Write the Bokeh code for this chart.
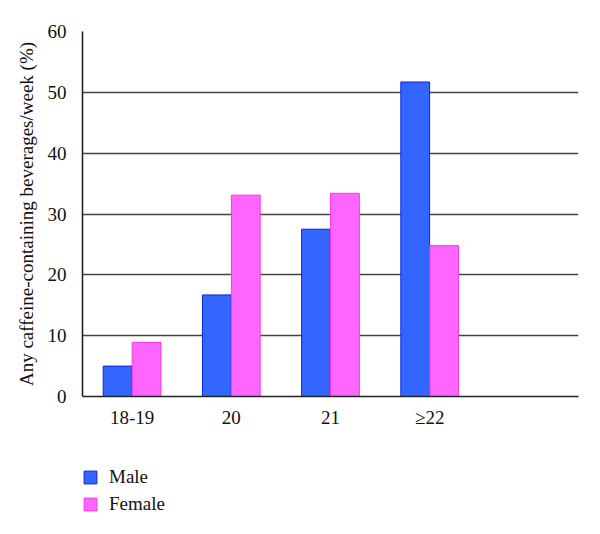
from bokeh.plotting import figure
from bokeh.layouts import column
from bokeh.models import ColumnDataSource, FixedTicker, Legend, LegendItem, Range1d
from bokeh.embed import file_html
from bokeh.resources import INLINE

categories = ["18-19", "20", "21", "≥22"]
male = [5.0, 16.7, 27.5, 51.7]
female = [8.9, 33.1, 33.4, 24.8]
y_ticks = [0, 10, 20, 30, 40, 50, 60]
n_slots = 5

FONT = "Liberation Serif"
MALE_FILL, MALE_LINE = "#3366FF", "#1020E0"
FEM_FILL, FEM_LINE = "#FF66FF", "#FF33DD"

centers = [i + 0.5 for i in range(len(categories))]
src_m = ColumnDataSource(dict(x=[c - 0.146 for c in centers], top=male))
src_f = ColumnDataSource(dict(x=[c + 0.146 for c in centers], top=female))

p = figure(width=584, height=430, output_backend="svg", toolbar_location=None,
           x_range=Range1d(0, n_slots), y_range=Range1d(0, 60),
           min_border_left=82, min_border_right=6, min_border_top=31, min_border_bottom=31)

p.vbar(x="x", top="top", width=0.29, source=src_m, fill_color=MALE_FILL,
       line_color=MALE_LINE, line_width=1)
p.vbar(x="x", top="top", width=0.29, source=src_f, fill_color=FEM_FILL,
       line_color=FEM_LINE, line_width=1)

p.outline_line_color = None
p.background_fill_color = "white"
p.border_fill_color = "white"

p.xgrid.visible = False
p.ygrid.ticker = FixedTicker(ticks=y_ticks)
p.ygrid.grid_line_color = "#444444"
p.ygrid.grid_line_width = 1.6

p.yaxis.ticker = FixedTicker(ticks=y_ticks)
p.yaxis.axis_label = "Any caffeine-containing beverages/week (%)"
p.yaxis.axis_label_text_font = FONT
p.yaxis.axis_label_text_font_style = "normal"
p.yaxis.axis_label_text_font_size = "19px"
p.yaxis.axis_label_text_color = "#111111"
p.yaxis.axis_label_standoff = 8
p.yaxis.major_label_text_font = FONT
p.yaxis.major_label_text_font_size = "19px"
p.yaxis.major_label_text_color = "#111111"
p.yaxis.major_tick_line_color = None
p.yaxis.minor_tick_line_color = None
p.yaxis.axis_line_color = "#222222"
p.yaxis.axis_line_width = 1.6
p.yaxis.major_label_standoff = 10

p.xaxis.ticker = FixedTicker(ticks=centers)
p.xaxis.major_label_overrides = {c: lab for c, lab in zip(centers, categories)}
p.xaxis.major_label_text_font = FONT
p.xaxis.major_label_text_font_size = "19px"
p.xaxis.major_label_text_color = "#111111"
p.xaxis.major_tick_line_color = None
p.xaxis.minor_tick_line_color = None
p.xaxis.axis_line_color = "#222222"
p.xaxis.axis_line_width = 1.6
p.xaxis.major_label_standoff = 4

# legend panel below the chart
lf = figure(width=584, height=88, output_backend="svg", toolbar_location=None,
            x_range=Range1d(0, 1), y_range=Range1d(0, 1),
            x_axis_type=None, y_axis_type=None,
            min_border_left=0, min_border_right=0, min_border_top=0, min_border_bottom=0)
lf.outline_line_color = None
lf.xgrid.visible = False
lf.ygrid.visible = False
# dummy renderers placed outside the visible range, used only for legend swatches
lm = lf.vbar(x=[-10], top=[-10], width=0.1, fill_color=MALE_FILL, line_color=MALE_LINE)
lfe = lf.vbar(x=[-10], top=[-10], width=0.1, fill_color=FEM_FILL, line_color=FEM_LINE)

legend = Legend(items=[LegendItem(label="Male", renderers=[lm]),
                       LegendItem(label="Female", renderers=[lfe])],
                location=(0, 3), orientation="vertical")
legend.border_line_color = None
legend.background_fill_alpha = 0
legend.label_text_font = FONT
legend.label_text_font_size = "19px"
legend.label_text_color = "#111111"
legend.glyph_width = 16
legend.glyph_height = 16
legend.label_height = 20
legend.spacing = 5
legend.label_standoff = 11
legend.padding = 0
legend.margin = 0
lf.add_layout(legend)

layout = column(p, lf, spacing=0)
open("out.html", "w").write(file_html(layout, INLINE))
